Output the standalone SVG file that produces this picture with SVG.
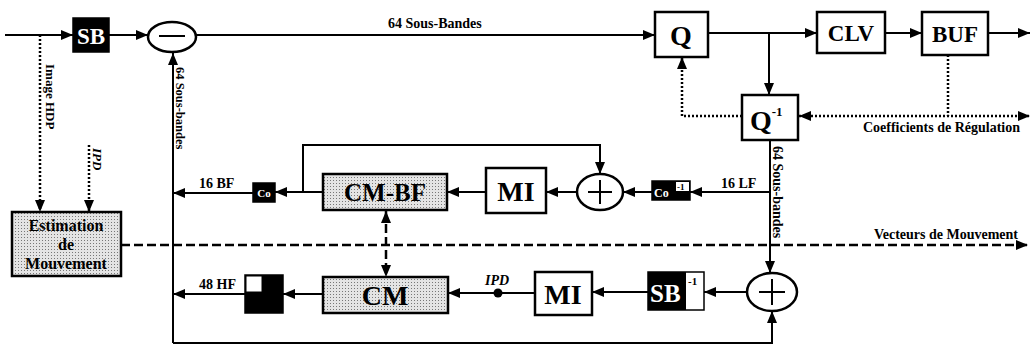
<svg xmlns="http://www.w3.org/2000/svg" width="1031" height="349" viewBox="0 0 1031 349">
<defs>
<marker id="a" markerUnits="userSpaceOnUse" markerWidth="12" markerHeight="10" refX="12" refY="5" orient="auto-start-reverse"><path d="M0,0 L12,5 L0,10 z" fill="#000"/></marker>
<pattern id="dots" width="3" height="3" patternUnits="userSpaceOnUse"><rect width="3" height="3" fill="#e4e4e4"/><rect width="1" height="1" fill="#777"/></pattern>
<style>
.l{stroke:#000;stroke-width:2;fill:none}
.dt{stroke:#000;stroke-width:2.5;fill:none;stroke-dasharray:2 2}
.ds{stroke:#000;stroke-width:2.5;fill:none;stroke-dasharray:9 4}
.bx{stroke:#000;stroke-width:2.5;fill:#fff}
.sh{stroke:#000;stroke-width:2.5;fill:url(#dots)}
.bk{fill:#000;stroke:#000;stroke-width:1.5}
.t{font-family:"Liberation Serif",serif;font-weight:bold;fill:#000}
.s{font-family:"Liberation Serif",serif;font-weight:bold;font-size:14px;fill:#000}
.c{text-anchor:middle}
</style>
</defs>
<g id="connectors">
<line class="l" x1="5" y1="35" x2="73" y2="35" marker-end="url(#a)"/>
<line class="l" x1="109" y1="35" x2="148" y2="35" marker-end="url(#a)"/>
<line class="l" x1="196" y1="35" x2="655" y2="35" marker-end="url(#a)"/>
<line class="l" x1="708" y1="33" x2="817" y2="33" marker-end="url(#a)"/>
<line class="l" x1="769" y1="33" x2="769" y2="95" marker-end="url(#a)"/>
<line class="l" x1="885" y1="33" x2="922" y2="33" marker-end="url(#a)"/>
<line class="l" x1="988" y1="33" x2="1030" y2="33" marker-end="url(#a)"/>
<polyline class="dt" points="742,116 682,116 682,57" marker-end="url(#a)"/>
<line class="dt" x1="948" y1="55" x2="948" y2="116"/>
<line class="dt" x1="799" y1="116" x2="1030" y2="116" marker-start="url(#a)" marker-end="url(#a)"/>
<line class="l" x1="770" y1="140" x2="770" y2="273" marker-end="url(#a)"/>
<line class="l" x1="770" y1="192" x2="690" y2="192" marker-end="url(#a)"/>
<line class="l" x1="652" y1="192" x2="623" y2="192" marker-end="url(#a)"/>
<line class="l" x1="577" y1="192" x2="546" y2="192" marker-end="url(#a)"/>
<line class="l" x1="486" y1="192" x2="447" y2="192" marker-end="url(#a)"/>
<line class="l" x1="323" y1="192" x2="275" y2="192" marker-end="url(#a)"/>
<polyline class="l" points="303,192 303,145 600,145 600,174" marker-end="url(#a)"/>
<line class="l" x1="253" y1="193" x2="173" y2="193" marker-end="url(#a)"/>
<line class="l" x1="173" y1="343" x2="173" y2="53" marker-end="url(#a)"/>
<polyline class="l" points="173,343 772,343 772,311" marker-end="url(#a)"/>
<line class="dt" x1="40" y1="35" x2="40" y2="212" marker-end="url(#a)"/>
<line class="dt" x1="89" y1="145" x2="89" y2="212" marker-end="url(#a)"/>
<line class="ds" x1="121" y1="245" x2="1028" y2="245" marker-end="url(#a)"/>
<line class="ds" x1="386" y1="211" x2="386" y2="277" marker-start="url(#a)" marker-end="url(#a)"/>
<line class="l" x1="747" y1="292" x2="704" y2="292" marker-end="url(#a)"/>
<line class="l" x1="648" y1="292" x2="592" y2="292" marker-end="url(#a)"/>
<line class="l" x1="535" y1="293" x2="448" y2="293" marker-end="url(#a)"/>
<circle cx="498" cy="293" r="4.5" fill="#000"/>
<line class="l" x1="323" y1="294" x2="283" y2="294" marker-end="url(#a)"/>
<line class="l" x1="245" y1="294" x2="173" y2="294" marker-end="url(#a)"/>
</g>
<g id="labels">
<text class="s" x="388" y="28">64  Sous-Bandes</text>
<text class="s" x="1020" y="132" text-anchor="end">Coefficients de Régulation</text>
<text class="s" x="1018" y="239" text-anchor="end">Vecteurs de Mouvement</text>
<text class="s" x="721" y="188">16 LF</text>
<text class="s" x="199" y="188">16 BF</text>
<text class="s" x="199" y="289">48 HF</text>
<text class="s" x="485" y="285" font-style="italic">IPD</text>
<text class="s" transform="translate(773,146) rotate(90)" style="font-size:14px">64  Sous-bandes</text>
<text class="s" transform="translate(176,67) rotate(90)" style="font-size:12.5px">64  Sous-bandes</text>
<text class="s" transform="translate(46,64) rotate(90)" style="font-size:13px">Image HDP</text>
<text class="s" transform="translate(93,148) rotate(90)" font-style="italic" style="font-size:13px">IPD</text>
</g>
<g id="SB"><rect class="bk" x="73" y="18" width="36" height="34"/><text class="t c" x="91" y="44" font-size="23" style="fill:#fff">SB</text></g>
<g id="minus"><ellipse class="bx" cx="172" cy="37" rx="24" ry="15"/><line class="l" x1="159" y1="36" x2="185" y2="36"/></g>
<g id="Q"><rect class="bx" x="655" y="12" width="53" height="45"/><text class="t c" x="681" y="45" font-size="28">Q</text></g>
<g id="CLV"><rect class="bx" x="817" y="12" width="68" height="41"/><text class="t c" x="851" y="41" font-size="23">CLV</text></g>
<g id="BUF"><rect class="bx" x="922" y="12" width="66" height="43"/><text class="t c" x="955" y="42" font-size="23">BUF</text></g>
<g id="Qinv"><rect class="bx" x="742" y="95" width="56" height="45"/><text class="t" x="750" y="130" font-size="28">Q<tspan font-size="13" dy="-14">-1</tspan></text></g>
<g id="Coinv"><rect class="bk" x="652" y="181" width="38" height="19"/><rect x="676" y="182" width="13" height="9" fill="#fff"/><text class="t" x="654" y="197" font-size="12" style="fill:#fff">Co</text><text class="t" x="677" y="190" font-size="9">-1</text></g>
<g id="plus1"><ellipse class="bx" cx="600" cy="192" rx="23" ry="18"/><path class="l" d="M588,192 H612 M600,180 V204"/></g>
<g id="MI1"><rect class="bx" x="486" y="168" width="60" height="45"/><text class="t c" x="516" y="201" font-size="28">MI</text></g>
<g id="CMBF"><rect class="sh" x="323" y="174" width="124" height="36"/><text class="t c" x="385" y="201" font-size="25">CM-BF</text></g>
<g id="Co"><rect class="bk" x="253" y="183" width="22" height="19"/><text class="t c" x="264" y="197" font-size="11" style="fill:#fff">Co</text></g>
<g id="Estimation"><rect class="sh" x="12" y="212" width="109" height="64"/><text class="t c" x="66" y="231" font-size="16">Estimation</text><text class="t c" x="66" y="250" font-size="16">de</text><text class="t c" x="66" y="269" font-size="16">Mouvement</text></g>
<g id="CM"><rect class="sh" x="323" y="277" width="125" height="36"/><text class="t c" x="385" y="305" font-size="28">CM</text></g>
<g id="MI2"><rect class="bx" x="535" y="272" width="57" height="43"/><text class="t c" x="563" y="304" font-size="28">MI</text></g>
<g id="SBinv"><rect class="bx" x="648" y="272" width="56" height="38" style="stroke-width:1.5"/><rect x="648" y="272" width="38" height="38" fill="#000"/><text class="t" x="650" y="302" font-size="25" style="fill:#fff">SB</text><text class="t" x="688" y="285" font-size="11">-1</text></g>
<g id="plus2"><ellipse class="bx" cx="772" cy="292" rx="25" ry="19"/><path class="l" d="M759,292 H785 M772,279 V305"/></g>
<g id="HF"><rect class="bk" x="245" y="275" width="38" height="38"/><rect x="246" y="276" width="16" height="16" fill="#fff" stroke="#000" stroke-width="1"/></g>
</svg>
